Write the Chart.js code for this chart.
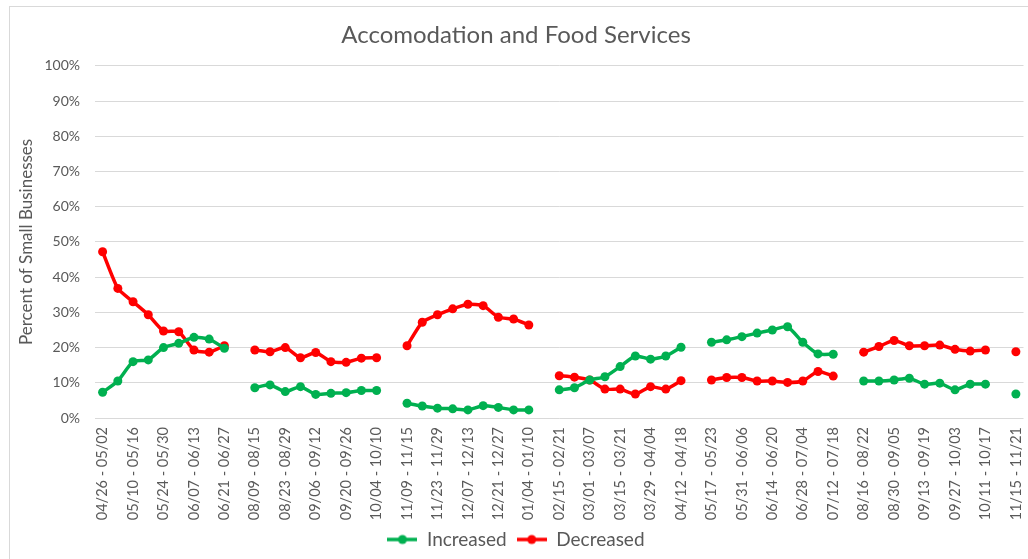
<!DOCTYPE html>
<html lang="en">
<head>
    <meta charset="UTF-8">
    <title>Accomodation and Food Services</title>
    <style>
        body{
            margin: 0;
            background-color: #ffffff;
        }
        #frame{
            position: absolute;
            left: 9px;
            top: 6px;
            width: 1030px;
            height: 560px;
            border: 1px solid #d9d9d9;
        }
        #myChart{
            position: absolute;
            left: 0;
            top: 0;
        }
    </style>
</head>
<body>
    <div id="frame"></div>
    <canvas id="myChart" width="1028" height="559"></canvas>

    <script src="https://cdn.jsdelivr.net/npm/chart.js"></script>

    <script>
        // weekly survey periods, '' = blank row between survey phases
        const weeks = [
            '04/26 - 05/02','05/03 - 05/09','05/10 - 05/16','05/17 - 05/23','05/24 - 05/30','05/31 - 06/06','06/07 - 06/13','06/14 - 06/20','06/21 - 06/27',
            '',
            '08/09 - 08/15','08/16 - 08/22','08/23 - 08/29','08/30 - 09/05','09/06 - 09/12','09/13 - 09/19','09/20 - 09/26','09/27 - 10/03','10/04 - 10/10',
            '',
            '11/09 - 11/15','11/16 - 11/22','11/23 - 11/29','11/30 - 12/06','12/07 - 12/13','12/14 - 12/20','12/21 - 12/27','12/28 - 01/03','01/04 - 01/10',
            '',
            '02/15 - 02/21','02/22 - 02/28','03/01 - 03/07','03/08 - 03/14','03/15 - 03/21','03/22 - 03/28','03/29 - 04/04','04/05 - 04/11','04/12 - 04/18',
            '',
            '05/17 - 05/23','05/24 - 05/30','05/31 - 06/06','06/07 - 06/13','06/14 - 06/20','06/21 - 06/27','06/28 - 07/04','07/05 - 07/11','07/12 - 07/18',
            '',
            '08/16 - 08/22','08/23 - 08/29','08/30 - 09/05','09/06 - 09/12','09/13 - 09/19','09/20 - 09/26','09/27 - 10/03','10/04 - 10/10','10/11 - 10/17',
            '',
            '11/15 - 11/21'
        ]

        const increased = [
            7.3, 10.5, 16.0, 16.5, 20.0, 21.2, 22.9, 22.4, 19.8,
            null,
            8.6, 9.4, 7.5, 8.9, 6.7, 7.0, 7.2, 7.8, 7.8,
            null,
            4.2, 3.4, 2.8, 2.6, 2.3, 3.5, 3.0, 2.3, 2.3,
            null,
            8.0, 8.6, 10.8, 11.7, 14.6, 17.6, 16.7, 17.6, 20.1,
            null,
            21.5, 22.2, 23.1, 24.1, 25.0, 25.9, 21.5, 18.2, 18.1,
            null,
            10.5, 10.5, 10.8, 11.3, 9.6, 9.9, 8.0, 9.6, 9.6,
            null,
            6.8
        ]

        const decreased = [
            47.2, 36.8, 33.0, 29.3, 24.7, 24.5, 19.3, 18.7, 20.5,
            null,
            19.3, 18.8, 20.0, 17.1, 18.6, 16.0, 15.8, 17.0, 17.1,
            null,
            20.5, 27.2, 29.3, 31.0, 32.3, 31.9, 28.6, 28.1, 26.4,
            null,
            12.0, 11.6, 10.8, 8.2, 8.2, 6.8, 8.9, 8.2, 10.6,
            null,
            10.8, 11.5, 11.5, 10.5, 10.5, 10.1, 10.5, 13.2, 11.9,
            null,
            18.7, 20.3, 22.0, 20.5, 20.5, 20.7, 19.5, 19.0, 19.3,
            null,
            18.8
        ]

        const yTicks = [0, 10, 20, 30, 40, 50, 60, 70, 80, 90, 100]

        const GREEN = '#00b050'
        const RED = '#ff0000'
        const GREY = '#595959'
        const FONT = 'Lato'

        // legend marker: short line with a dot in the middle, like Excel
        function legendMarker(color){
            const c = document.createElement('canvas')
            c.width = 30
            c.height = 12
            const g = c.getContext('2d')
            g.strokeStyle = color
            g.lineWidth = 3.5
            g.beginPath()
            g.moveTo(0, 6)
            g.lineTo(30, 6)
            g.stroke()
            g.fillStyle = color
            g.beginPath()
            g.arc(15, 6, 4.5, 0, Math.PI * 2)
            g.fill()
            return c
        }
        const markers = [legendMarker(GREEN), legendMarker(RED)]

        const ctx = document.getElementById('myChart')
        const myChart = new Chart(ctx, {
            type: 'line',
            data: {
                labels: weeks,
                datasets: [{
                    label: 'Increased',
                    data: increased,
                    borderColor: GREEN,
                    backgroundColor: GREEN,
                    borderWidth: 3.5,
                    pointRadius: 4.5,
                    pointHoverRadius: 4.5,
                    pointBorderWidth: 0,
                    tension: 0.2,
                    spanGaps: false
                }, {
                    label: 'Decreased',
                    data: decreased,
                    borderColor: RED,
                    backgroundColor: RED,
                    borderWidth: 3.5,
                    pointRadius: 4.5,
                    pointHoverRadius: 4.5,
                    pointBorderWidth: 0,
                    tension: 0.2,
                    spanGaps: false
                }]
            },
            options: {
                responsive: false,
                animation: false,
                layout: { padding: { left: 0, top: 0, bottom: 0, right: -4 } },
                scales: {
                    x: {
                        offset: true,
                        grid: { display: false, drawTicks: false },
                        border: { display: false },
                        ticks: {
                            autoSkip: false,
                            minRotation: 90,
                            maxRotation: 90,
                            padding: 9,
                            color: GREY,
                            font: { family: FONT, size: 14.5 },
                            callback: function(value, index){
                                return index % 2 === 0 ? weeks[index] : ''
                            }
                        },
                        afterFit: function(scale){
                            scale.height = 102
                            scale.paddingLeft = 0
                            scale.paddingRight = 0
                        }
                    },
                    y: {
                        min: 0,
                        max: 100,
                        afterBuildTicks: function(scale){
                            scale.ticks = yTicks.map(v => ({ value: v }))
                        },
                        grid: { color: '#d9d9d9', lineWidth: 1, drawTicks: false },
                        border: { display: false },
                        ticks: {
                            padding: 15,
                            color: GREY,
                            font: { family: FONT, size: 14 },
                            callback: v => v + '%'
                        },
                        title: {
                            display: true,
                            text: 'Percent of Small Businesses',
                            color: GREY,
                            font: { family: FONT, size: 17 },
                            padding: { top: 16, bottom: 0 }
                        },
                        afterFit: function(scale){ scale.width = 95 }
                    }
                },
                plugins: {
                    title: {
                        display: true,
                        text: 'Accomodation and Food Services',
                        color: GREY,
                        font: { family: FONT, size: 24, weight: 'normal' },
                        padding: { top: 21, bottom: 16 }
                    },
                    legend: {
                        position: 'bottom',
                        labels: {
                            usePointStyle: true,
                            pointStyleWidth: 30,
                            padding: 10,
                            color: GREY,
                            font: { family: FONT, size: 19 },
                            generateLabels: function(chart){
                                const items = Chart.defaults.plugins.legend.labels.generateLabels(chart)
                                items.forEach((it, i) => { it.pointStyle = markers[i] })
                                return items
                            }
                        }
                    },
                    tooltip: { enabled: false }
                }
            }
        })
    </script>
</body>
</html>
